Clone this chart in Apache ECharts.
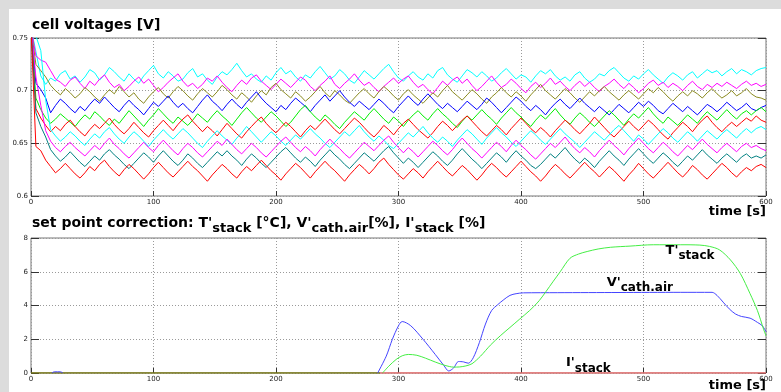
<!DOCTYPE html>
<html>
<head>
<meta charset="utf-8">
<script src="https://cdn.jsdelivr.net/npm/echarts@6/dist/echarts.min.js"></script>
<style>
html, body { margin: 0; padding: 0; background: #dcdcdc; }
#frame { position: relative; width: 781px; height: 392px; background: #dcdcdc; overflow: hidden; }
#main { position: absolute; left: 9px; top: 9px; width: 772px; height: 383px; background: #fff; }
</style>
</head>
<body>
<div id="frame"><div id="main"></div></div>
<script>
// cell voltages in mV, one sample every 4 s (0..600 s)
var cellTimeStep = 4;
var cyanHigh = [
  760,737,714,706,712,709,716,719,711,714, 708,713,720,717,710,715,722,718,713,709,
  716,711,707,714,719,724,716,712,718,714, 709,711,717,721,713,716,710,706,713,718,
  715,720,726,719,713,716,711,708,714,710, 717,722,716,719,713,709,715,712,718,723,
  717,711,714,720,716,710,707,713,719,715, 711,716,721,725,718,712,709,714,718,713,
  710,716,712,719,722,715,711,708,714,720, 717,713,718,714,709,712,717,721,716,711,
  715,713,708,714,719,716,720,714,710,713, 709,715,718,712,708,711,716,714,719,722,
  717,712,709,714,711,716,720,715,711,707, 713,717,714,710,715,718,712,716,720,717,
  719,714,718,721,716,720,718,715,719,721, 722];
var magentaHigh = [
  760,733,729,727,719,711,708,704,710,713, 707,702,709,705,711,715,708,703,706,700,
  704,709,713,707,711,705,699,703,708,712, 716,709,704,707,702,706,712,709,714,708,
  703,699,705,710,706,712,715,709,705,701, 706,711,707,703,708,713,710,704,700,705,
  709,714,706,702,707,711,716,710,705,708, 703,699,704,708,712,707,711,714,708,703,
  706,701,697,703,709,705,710,713,707,711, 705,700,704,709,714,708,703,706,711,707,
  702,698,704,708,703,707,712,706,709,704, 700,705,709,704,708,703,699,704,707,711,
  706,702,707,703,698,702,707,710,705,708, 703,707,704,700,705,709,704,701,706,703,
  707,704,708,705,702,706,709,705,707,704, 706];
var oliveMid = [
  760,725,719,713,705,700,696,702,698,693, 697,703,699,694,690,696,701,697,704,699,
  694,698,692,688,694,699,703,697,693,699, 704,700,695,691,697,702,698,694,699,705,
  701,696,692,698,694,689,695,700,696,703, 707,701,697,693,699,695,690,694,699,704,
  698,694,700,696,691,688,693,698,702,697, 693,699,704,700,695,691,697,701,696,692,
  688,693,698,694,700,705,699,695,691,696, 701,697,692,688,694,698,703,698,694,699,
  695,690,696,701,706,700,696,692,697,702, 698,693,689,694,699,695,700,704,699,695,
  691,696,700,696,692,697,702,698,703,699, 694,690,695,699,695,700,697,693,698,702,
  697,693,696,700,695,698,702,697,694,693, 691];
var blueMid = [
  760,707,701,693,679,686,692,688,683,679, 685,681,687,692,688,694,689,684,680,686,
  691,686,682,677,683,689,685,690,695,689, 684,688,683,679,685,691,696,690,686,681,
  687,692,687,683,689,694,699,693,688,684, 680,686,682,688,693,689,685,680,686,691,
  696,690,695,700,694,689,685,690,686,682, 687,692,688,683,679,685,690,695,690,686,
  692,697,692,687,683,688,684,680,685,690, 686,682,687,693,689,684,679,684,689,694,
  690,685,681,686,682,677,683,688,692,687, 683,688,693,688,684,680,685,681,677,682,
  687,683,679,684,689,685,690,686,681,678, 683,688,684,680,685,681,677,682,687,684,
  680,684,689,685,681,684,688,683,681,684, 686];
var greenMid = [
  760,693,682,674,669,673,678,674,670,666, 672,677,673,680,676,671,667,673,669,675,
  681,676,671,666,672,677,683,678,673,669, 675,671,667,672,678,674,670,676,681,676,
  672,667,673,679,684,679,674,670,675,680, 676,671,666,670,676,682,686,680,675,671,
  677,673,668,664,670,675,680,676,672,678, 683,678,673,669,675,671,666,672,677,681,
  676,672,678,683,678,674,669,665,671,676, 672,677,682,677,673,668,674,679,684,679,
  675,670,666,672,677,673,678,683,677,672, 668,674,679,675,670,666,671,676,681,677,
  672,667,673,678,674,679,684,678,673,669, 675,671,667,672,677,673,669,675,680,676,
  672,677,682,677,673,678,681,677,681,684, 680];
var redHigh = [
  760,683,674,667,661,666,662,668,672,666, 661,657,663,668,664,669,674,668,663,659,
  664,670,665,660,656,662,667,672,667,662, 668,673,677,671,666,661,666,662,657,663,
  669,664,659,655,661,666,671,675,669,664, 660,665,670,666,661,656,662,667,663,668,
  673,668,663,659,664,669,674,670,665,660, 656,661,667,663,658,664,669,673,668,663,
  659,655,660,666,671,667,662,667,672,676, 671,666,661,657,662,667,663,658,664,669,
  674,669,664,660,665,661,656,662,667,672, 668,663,659,664,669,675,670,665,660,656,
  661,666,671,666,662,667,672,668,663,658, 654,660,665,670,666,661,667,672,676,670,
  665,661,666,670,666,670,674,671,676,672, 670];
var cyanLow = [
  760,752,738,691,663,657,652,656,661,657, 652,648,654,659,655,661,665,659,654,650,
  656,661,657,652,647,653,658,663,658,654, 659,664,660,655,650,646,652,657,662,657,
  653,649,655,660,666,661,656,651,656,661, 657,652,648,653,658,654,659,664,659,655,
  650,646,651,656,661,657,662,667,661,656, 652,657,653,648,645,650,655,660,656,661,
  666,660,655,651,656,652,647,653,658,663, 659,654,649,655,660,665,660,656,651,647,
  652,657,662,658,653,649,654,659,664,659, 655,651,646,651,656,661,657,653,658,663,
  667,662,657,652,658,654,649,654,659,664, 660,655,651,656,661,657,652,657,662,658,
  654,659,663,659,655,660,664,660,664,666, 663];
var magentaLow = [
  760,713,686,662,652,646,642,647,651,646, 642,638,643,648,644,650,655,649,645,640,
  636,641,646,651,646,642,648,653,648,643, 639,645,650,646,641,637,642,647,652,648,
  654,649,644,640,645,650,646,641,637,642, 647,652,656,651,646,642,647,643,638,644,
  649,654,649,645,640,636,641,646,651,647, 643,648,653,657,651,646,641,646,642,637,
  642,647,652,648,643,639,644,650,655,650, 645,641,636,641,646,651,647,642,648,653,
  648,644,639,635,640,645,650,646,651,656, 650,645,641,646,642,637,643,648,653,648,
  644,639,645,650,655,650,645,641,646,651, 647,642,638,643,648,644,649,654,649,645,
  641,646,650,646,642,647,650,646,648,645, 643];
var tealLow = [
  760,679,666,656,644,638,633,637,642,637, 632,628,633,638,634,640,644,639,635,630,
  626,631,636,641,637,632,638,643,638,633, 629,634,640,636,631,627,632,637,642,638,
  643,638,634,629,635,640,636,631,627,632, 637,642,646,641,636,632,637,633,628,634,
  639,644,639,635,630,626,631,636,641,637, 633,638,643,647,641,636,631,636,632,627,
  632,637,642,638,633,629,634,640,645,640, 635,631,626,631,636,641,637,632,638,643,
  638,634,629,626,630,635,640,636,641,646, 640,635,631,636,632,627,633,638,643,638,
  634,629,635,640,645,640,635,631,636,641, 637,632,628,633,638,634,639,644,639,635,
  631,636,640,636,632,637,640,636,638,636, 639];
var redLow = [
  760,647,643,634,628,622,626,631,626,621, 617,622,628,624,630,634,628,623,619,625,
  630,626,621,616,621,627,632,627,622,618, 623,628,633,628,624,619,614,620,625,630,
  626,621,617,623,628,624,629,634,629,624, 620,615,621,626,631,627,622,617,623,628,
  633,628,624,619,614,620,625,630,626,621, 626,632,636,630,625,620,616,621,626,622,
  617,623,628,633,628,623,619,624,629,625, 620,615,620,626,631,627,622,618,623,628,
  633,628,623,619,614,619,625,630,626,621, 617,622,627,632,627,623,618,623,628,624,
  619,614,620,625,631,626,621,617,622,627, 632,627,622,618,623,629,625,620,616,621,
  626,631,627,622,618,623,627,624,628,630, 627];

var cellNames = ['cyanHigh','magentaHigh','oliveMid','blueMid','greenMid','redHigh','cyanLow','magentaLow','tealLow','redLow'];
var cellValues = [cyanHigh, magentaHigh, oliveMid, blueMid, greenMid, redHigh, cyanLow, magentaLow, tealLow, redLow];
var cellColors = ['#00ffff','#ff00ff','#8a8a20','#0000ff','#00ee00','#ff0000','#00ffff','#ff00ff','#008080','#ff0000'];

// set point corrections
var vCathTimes  = [17, 19, 24, 26, 27, 283, 290, 295, 300, 303, 310, 320, 330, 337, 341, 345, 349, 353, 357, 361, 366, 371, 376, 381, 386, 391, 396, 402, 430, 480, 530, 556, 560, 565, 570, 575, 580, 587, 593, 597, 600];
var vCathValues = [0, 0.07, 0.07, 0, null, 0, 1.0, 2.0, 2.8, 3.05, 2.8, 2.0, 1.1, 0.45, 0.12, 0.3, 0.68, 0.66, 0.58, 0.9, 1.8, 2.9, 3.7, 4.05, 4.35, 4.6, 4.7, 4.75, 4.76, 4.77, 4.78, 4.78, 4.6, 4.2, 3.8, 3.5, 3.35, 3.25, 3.0, 2.8, 2.45];
var tStackTimes  = [287, 292, 298, 303, 308, 315, 322, 330, 338, 345, 350, 355, 360, 367, 375, 383, 391, 399, 407, 415, 426, 432, 440, 447, 454, 463, 473, 489, 508, 530, 546, 554, 562, 571, 579, 587, 593, 598, 600];
var tStackValues = [0, 0.4, 0.8, 1.02, 1.1, 1.05, 0.88, 0.65, 0.45, 0.35, 0.36, 0.42, 0.55, 1.0, 1.65, 2.2, 2.7, 3.2, 3.7, 4.3, 5.4, 6.0, 6.8, 7.05, 7.2, 7.35, 7.45, 7.52, 7.6, 7.6, 7.58, 7.5, 7.3, 6.7, 5.9, 4.7, 3.7, 2.6, 2.2];
var iStackTimes  = [285, 600];
var iStackValues = [0, 0];
var baseTimes  = [0, 285];
var baseValues = [0, 0];

function pairs(ts, vs) {
  var out = [];
  for (var i = 0; i < ts.length; i++) out.push([ts[i], vs[i] === null ? '-' : vs[i]]);
  return out;
}

var chart = echarts.init(document.getElementById('main'));
var font = 'DejaVu Sans';
var tickLabel = { fontFamily: font, fontSize: 7, color: '#222' };
var gridLine = { type: [1, 2], color: '#9a9a9a', width: 1 };

function xAxisFor(idx) {
  return {
    type: 'value', gridIndex: idx, min: 0, max: 600, interval: 100,
    axisLine: { show: false },
    axisTick: { show: true, inside: true, length: 5, lineStyle: { color: '#333' } },
    axisLabel: Object.assign({ margin: 3 }, tickLabel),
    splitLine: { show: true, lineStyle: gridLine }
  };
}
function yAxisFor(idx, min, max, interval, fmt) {
  return {
    type: 'value', gridIndex: idx, min: min, max: max, interval: interval,
    axisLine: { show: false },
    axisTick: { show: true, inside: true, length: 8, lineStyle: { color: '#333' } },
    axisLabel: Object.assign({ margin: 3, formatter: fmt }, tickLabel),
    splitLine: { show: true, lineStyle: gridLine }
  };
}
function rightAxisFor(idx, min, max, interval) {
  return {
    type: 'value', gridIndex: idx, position: 'right', min: min, max: max, interval: interval,
    axisLine: { show: false },
    axisTick: { show: true, inside: true, length: 8, lineStyle: { color: '#333' } },
    axisLabel: { show: false }, splitLine: { show: false }
  };
}

var series = [];
for (var k = 0; k < cellValues.length; k++) {
  var d = [];
  for (var i = 0; i < cellValues[k].length; i++) d.push([i * cellTimeStep, cellValues[k][i]]);
  series.push({
    name: cellNames[k], type: 'line', xAxisIndex: 0, yAxisIndex: 0, data: d,
    showSymbol: false, lineStyle: { color: cellColors[k], width: 1 }, itemStyle: { color: cellColors[k] }
  });
}

var sub = { fontFamily: font, fontWeight: 'bold', fontSize: 13, color: '#000', verticalAlign: 'bottom' };
var main = { fontFamily: font, fontWeight: 'bold', fontSize: 14, color: '#000', verticalAlign: 'bottom', padding: [0, 0, 5, 0] };
var subS = { fontFamily: font, fontWeight: 'bold', fontSize: 12, color: '#000', verticalAlign: 'bottom' };
var mainS = { fontFamily: font, fontWeight: 'bold', fontSize: 13, color: '#000', verticalAlign: 'bottom', padding: [0, 0, 5, 0] };
function lbl(txt, coord) {
  return {
    symbol: 'circle', symbolSize: 0, silent: true,
    data: [{ coord: coord }],
    label: { show: true, position: 'inside', formatter: txt, rich: { m: mainS, s: subS } }
  };
}

series.push({ name: 'base', type: 'line', xAxisIndex: 1, yAxisIndex: 1, data: pairs(baseTimes, baseValues),
  showSymbol: false, lineStyle: { color: '#7a7a10', width: 1.5 } });
series.push({ name: 'Istack', type: 'line', xAxisIndex: 1, yAxisIndex: 1, data: pairs(iStackTimes, iStackValues),
  showSymbol: false, lineStyle: { color: '#f07070', width: 1.5 },
  markPoint: lbl("{m|I'}{s|stack}", [455, 0.45]) });
series.push({ name: 'Vcath', type: 'line', xAxisIndex: 1, yAxisIndex: 1, data: pairs(vCathTimes, vCathValues),
  showSymbol: false, smooth: 0.3, lineStyle: { color: '#4444ff', width: 1 },
  markPoint: lbl("{m|V'}{s|cath.air}", [497, 5.2]) });
series.push({ name: 'Tstack', type: 'line', xAxisIndex: 1, yAxisIndex: 1, data: pairs(tStackTimes, tStackValues),
  showSymbol: false, smooth: 0.3, lineStyle: { color: '#44ee44', width: 1 },
  markPoint: lbl("{m|T'}{s|stack}", [538, 7.1]) });

var option = {
  animation: false,
  backgroundColor: '#ffffff',
  textStyle: { fontFamily: font },
  graphic: [
    { type: 'text', left: 23, top: 9, style: { text: 'cell voltages [V]', font: 'bold 14px "DejaVu Sans"', fill: '#000' } },
    { type: 'text', right: 15, top: 196, style: { text: 'time [s]', font: 'bold 13px "DejaVu Sans"', fill: '#000' } },
    { type: 'text', left: 23, top: 207, style: {
        text: "{m|set point correction: T'}{s|stack}{m| [°C], V'}{s|cath.air}{m|[%], I'}{s|stack}{m| [%]}",
        rich: { m: main, s: sub } } },
    { type: 'text', right: 15, top: 370, style: { text: 'time [s]', font: 'bold 13px "DejaVu Sans"', fill: '#000' } }
  ],
  grid: [
    { left: 22, top: 29, width: 735, height: 158, show: true, borderColor: '#777', borderWidth: 1, backgroundColor: 'transparent' },
    { left: 22, top: 229, width: 735, height: 135, show: true, borderColor: '#777', borderWidth: 1, backgroundColor: 'transparent' }
  ],
  xAxis: [xAxisFor(0), xAxisFor(1)],
  yAxis: [
    yAxisFor(0, 600, 750, 50, function (v) { return String(v / 1000); }),
    yAxisFor(1, 0, 8, 2),
    rightAxisFor(0, 600, 750, 50),
    rightAxisFor(1, 0, 8, 2)
  ],
  series: series
};
chart.setOption(option);
</script>
</body>
</html>
